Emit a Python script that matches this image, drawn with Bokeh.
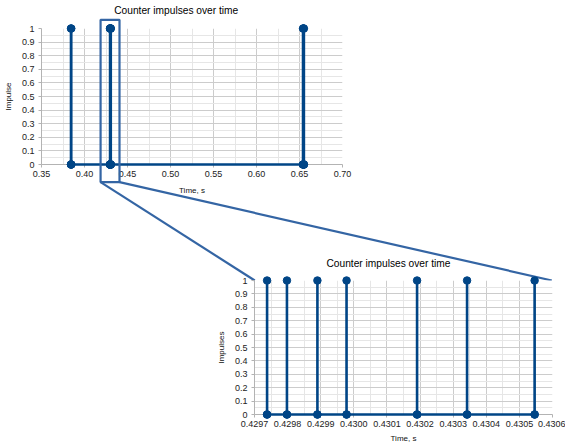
from bokeh.plotting import figure
from bokeh.models import Range1d, FixedTicker, PrintfTickFormatter
from bokeh.core.properties import value
from bokeh.embed import file_html
from bokeh.resources import INLINE

# ---------------- data ----------------
title_text = "Counter impulses over time"
overview_x_label = "Time, s"
overview_y_label = "Impulse"
zoom_x_label = "Time, s"
zoom_y_label = "Impulses"

# impulse times (s)
cluster_early = [0.3843, 0.3846]
zoom_times = [0.429738, 0.429798, 0.429890, 0.429978, 0.430191, 0.430342, 0.430546]
cluster_late = [0.6541, 0.6546, 0.6551]
impulse_off = 0
impulse_on = 1

overview_x_ticks = [0.35, 0.40, 0.45, 0.50, 0.55, 0.60, 0.65, 0.70]
overview_x_minor = [0.375, 0.425, 0.475, 0.525, 0.575, 0.625, 0.675]
y_ticks = [0, 0.1, 0.2, 0.3, 0.4, 0.5, 0.6, 0.7, 0.8, 0.9, 1]
y_tick_labels = ["0", "0.1", "0.2", "0.3", "0.4", "0.5", "0.6", "0.7", "0.8", "0.9", "1"]
y_minor = [0.05, 0.15, 0.25, 0.35, 0.45, 0.55, 0.65, 0.75, 0.85, 0.95]
zoom_x_ticks = [0.4297, 0.4298, 0.4299, 0.4300, 0.4301, 0.4302, 0.4303, 0.4304, 0.4305, 0.4306]
zoom_x_minor = [0.42975, 0.42985, 0.42995, 0.43005, 0.43015, 0.43025, 0.43035, 0.43045, 0.43055]

# ---------------- styles ----------------
FONT = "Liberation Sans"
SERIES = "#004586"
ZOOM_LINE = "#3465a4"
AXIS = "#b3b3b3"
GRID = "#cccccc"
GRID_MINOR = "#e6e6e6"

W, H = 565, 445
F1 = (40, 28, 302, 136)          # left, top, frame width, frame height (page px)
F2 = (254, 280, 298, 136)
T1 = (113, 10)                   # title left / vertical centre (page px)
T2 = (326, 263)


def impulse_series(times):
    xs, ys = [], []
    for t in times:
        xs += [t, t, t]
        ys += [impulse_off, impulse_on, impulse_off]
    return xs, ys


def data_from_page(frame, xr, px, py):
    left, top, fw, fh = frame
    return (xr[0] + (px - left) / fw * (xr[1] - xr[0]),
            y_ticks[-1] - (py - top) / fh * (y_ticks[-1] - y_ticks[0]))


def make_fig(frame, xr, x_ticks, x_minor, x_fmt, xlab, ylab, fill_border, title_pos,
             x_label_standoff):
    left, top, fw, fh = frame
    p = figure(width=W, height=H, x_range=Range1d(*xr), y_range=Range1d(y_ticks[0], y_ticks[-1]),
               output_backend="svg", toolbar_location=None,
               min_border_left=left, min_border_top=top,
               min_border_right=W - left - fw, min_border_bottom=H - top - fh)
    p.outline_line_color = None
    p.background_fill_color = "white"
    p.border_fill_color = "white" if fill_border else None

    xt = FixedTicker(ticks=x_ticks, minor_ticks=x_minor)
    yt = FixedTicker(ticks=y_ticks, minor_ticks=y_minor)
    p.xaxis.ticker = xt
    p.yaxis.ticker = yt
    p.xgrid.ticker = xt
    p.ygrid.ticker = yt
    p.xaxis.formatter = PrintfTickFormatter(format=x_fmt)
    p.yaxis.major_label_overrides = dict(zip(y_ticks, y_tick_labels))
    p.xaxis.axis_label = xlab
    p.yaxis.axis_label = ylab
    for ax in (p.xaxis[0], p.yaxis[0]):
        ax.axis_line_color = AXIS
        ax.major_tick_line_color = AXIS
        ax.major_tick_out = 3
        ax.major_tick_in = 0
        ax.minor_tick_line_color = None
        ax.major_label_text_font = FONT
        ax.major_label_text_font_size = "9px"
        ax.major_label_text_color = "#222222"
        ax.axis_label_text_font = FONT
        ax.axis_label_text_font_size = "8px"
        ax.axis_label_text_font_style = "normal"
        ax.axis_label_text_color = "#111111"
    p.yaxis.major_label_standoff = 3
    p.xaxis.major_label_standoff = 2
    p.xaxis.axis_label_standoff = x_label_standoff
    p.yaxis.axis_label_standoff = 6
    for g in (p.xgrid[0], p.ygrid[0]):
        g.grid_line_color = GRID
        g.minor_grid_line_color = GRID_MINOR

    tx, ty = data_from_page(frame, xr, *title_pos)
    p.text(x=[tx], y=[ty], text=[title_text], text_font=value(FONT), text_font_size="10.2px",
           text_color="#000000", text_align="left", text_baseline="middle", level="overlay")
    return p


# ---------------- overview chart ----------------
xr1 = (overview_x_ticks[0], overview_x_ticks[-1])
p1 = make_fig(F1, xr1, overview_x_ticks, overview_x_minor, "%.2f",
              overview_x_label, overview_y_label, True, T1, 6)
xs1, ys1 = impulse_series(cluster_early + zoom_times + cluster_late)
p1.line(xs1, ys1, line_color=SERIES, line_width=2.6, level="overlay")
p1.scatter(xs1, ys1, size=7.5, color=SERIES, level="overlay")

# ---------------- zoom chart ----------------
xr2 = (zoom_x_ticks[0], zoom_x_ticks[-1])
p2 = make_fig(F2, xr2, zoom_x_ticks, zoom_x_minor, "%.4f",
              zoom_x_label, zoom_y_label, False, T2, 4)
xs2, ys2 = impulse_series(zoom_times)
p2.line(xs2, ys2, line_color=SERIES, line_width=2.6, level="overlay")
p2.scatter(xs2, ys2, size=7.5, color=SERIES, level="overlay")
p2.margin = (-H, 0, 0, 0)

# ---------------- zoom box and connectors (drawn in overview coords) ----------------
box_pad_left, box_pad_right = 0.0110, 0.0101
box_l = zoom_x_ticks[0] - box_pad_left
box_r = zoom_x_ticks[-1] + box_pad_right
box_b, box_t = -0.13, 1.064
p1.quad(left=[box_l], right=[box_r], bottom=[box_b], top=[box_t], fill_color=None,
        line_color=ZOOM_LINE, line_width=2.2, level="overlay")
cl = data_from_page(F1, xr1, F2[0], F2[1])
cr = data_from_page(F1, xr1, F2[0] + F2[2], F2[1])
p1.segment(x0=[box_l, box_r], y0=[box_b, box_b], x1=[cl[0], cr[0]], y1=[cl[1], cr[1]],
           line_color=ZOOM_LINE, line_width=2.2, level="overlay")

open("out.html", "w").write(file_html([p1, p2], INLINE))
